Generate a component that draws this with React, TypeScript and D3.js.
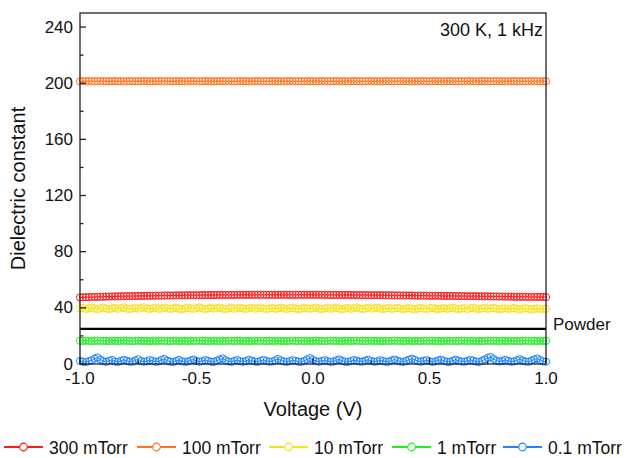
import { useMemo } from "react";
import * as d3 from "d3";

// voltage sweep (V), step 0.0125
const voltages: number[] = d3.range(0, 161).map((i) => -1 + i * 0.0125);

const p300: number[] = [
  47.4, 47.5, 47.6, 47.6, 47.7, 47.8, 47.8, 47.9, 47.9, 48.0, 48.0, 48.1, 48.1, 48.2, 48.2, 48.3, 48.3, 48.3, 48.4, 48.4,
  48.5, 48.5, 48.5, 48.6, 48.6, 48.6, 48.7, 48.7, 48.7, 48.8, 48.8, 48.8, 48.8, 48.9, 48.9, 48.9, 48.9, 49.0, 49.0, 49.0,
  49.0, 49.0, 49.1, 49.1, 49.1, 49.1, 49.1, 49.2, 49.2, 49.2, 49.2, 49.2, 49.2, 49.2, 49.3, 49.3, 49.3, 49.3, 49.3, 49.3,
  49.3, 49.3, 49.3, 49.3, 49.3, 49.3, 49.3, 49.3, 49.3, 49.3, 49.3, 49.3, 49.3, 49.3, 49.3, 49.3, 49.3, 49.3, 49.3, 49.3,
  49.3, 49.3, 49.3, 49.3, 49.3, 49.2, 49.2, 49.2, 49.2, 49.2, 49.2, 49.2, 49.2, 49.1, 49.1, 49.1, 49.1, 49.1, 49.1, 49.0,
  49.0, 49.0, 49.0, 49.0, 49.0, 48.9, 48.9, 48.9, 48.9, 48.9, 48.8, 48.8, 48.8, 48.8, 48.8, 48.7, 48.7, 48.7, 48.7, 48.7,
  48.6, 48.6, 48.6, 48.6, 48.6, 48.5, 48.5, 48.5, 48.5, 48.4, 48.4, 48.4, 48.4, 48.3, 48.3, 48.3, 48.3, 48.2, 48.2, 48.2,
  48.2, 48.1, 48.1, 48.1, 48.1, 48.0, 48.0, 48.0, 48.0, 47.9, 47.9, 47.9, 47.9, 47.9, 47.8, 47.8, 47.8, 47.8, 47.8, 47.8,
  47.7,
];

const p100: number[] = [
  201.3, 201.4, 201.3, 201.5, 201.4, 201.3, 201.4, 201.5, 201.4, 201.3, 201.4, 201.4, 201.5, 201.3, 201.4, 201.4, 201.3, 201.5, 201.4, 201.4,
  201.3, 201.4, 201.5, 201.4, 201.3, 201.4, 201.4, 201.5, 201.4, 201.3, 201.4, 201.4, 201.3, 201.5, 201.4, 201.4, 201.3, 201.4, 201.5, 201.4,
  201.4, 201.3, 201.4, 201.5, 201.4, 201.4, 201.3, 201.4, 201.4, 201.5, 201.3, 201.4, 201.4, 201.3, 201.4, 201.5, 201.4, 201.4, 201.3, 201.4,
  201.4, 201.5, 201.3, 201.4, 201.4, 201.3, 201.5, 201.4, 201.4, 201.3, 201.4, 201.4, 201.5, 201.4, 201.3, 201.4, 201.4, 201.3, 201.5, 201.4,
  201.4, 201.3, 201.4, 201.5, 201.4, 201.3, 201.4, 201.4, 201.5, 201.3, 201.4, 201.4, 201.3, 201.4, 201.5, 201.4, 201.4, 201.3, 201.4, 201.4,
  201.5, 201.3, 201.4, 201.4, 201.3, 201.5, 201.4, 201.4, 201.3, 201.4, 201.4, 201.5, 201.4, 201.3, 201.4, 201.4, 201.3, 201.5, 201.4, 201.4,
  201.3, 201.4, 201.5, 201.4, 201.3, 201.4, 201.4, 201.5, 201.4, 201.3, 201.4, 201.4, 201.3, 201.5, 201.4, 201.4, 201.3, 201.4, 201.5, 201.4,
  201.4, 201.3, 201.4, 201.5, 201.4, 201.4, 201.3, 201.4, 201.4, 201.5, 201.3, 201.4, 201.4, 201.3, 201.4, 201.5, 201.4, 201.4, 201.3, 201.4,
  201.4,
];

const p10: number[] = [
  39.6, 39.9, 39.2, 39.5, 40.1, 39.4, 39.0, 39.7, 40.2, 39.5, 39.1, 39.6, 40.0, 39.3, 39.8, 40.3, 39.5, 39.0, 39.6, 39.9,
  39.4, 39.8, 40.4, 39.6, 39.1, 39.7, 40.0, 39.3, 39.5, 40.2, 39.7, 39.2, 39.6, 40.1, 39.4, 38.9, 39.6, 40.0, 39.5, 39.3,
  39.8, 40.3, 39.6, 39.0, 39.5, 39.9, 39.4, 39.7, 40.2, 39.5, 39.1, 39.6, 40.0, 39.3, 39.8, 40.1, 39.5, 39.2, 39.7, 40.0,
  39.4, 39.7, 40.2, 39.6, 39.1, 39.5, 39.9, 39.3, 39.6, 40.1, 39.6, 39.2, 39.7, 40.0, 39.4, 39.0, 39.5, 40.0, 39.6, 39.3,
  39.7, 40.2, 39.5, 39.0, 39.6, 39.9, 39.3, 39.7, 40.1, 39.5, 39.1, 39.6, 39.9, 39.3, 39.8, 40.2, 39.5, 39.1, 39.6, 40.0,
  39.4, 39.7, 40.1, 39.5, 39.0, 39.5, 39.9, 39.3, 39.6, 40.0, 39.5, 39.1, 39.6, 39.9, 39.3, 38.9, 39.5, 39.9, 39.4, 39.2,
  39.6, 40.1, 39.4, 38.9, 39.5, 39.8, 39.2, 39.6, 40.0, 39.4, 39.0, 39.5, 39.8, 39.2, 39.7, 40.1, 39.4, 39.0, 39.5, 39.9,
  39.3, 39.6, 40.0, 39.4, 38.9, 39.4, 39.8, 39.2, 39.5, 39.9, 39.3, 38.9, 39.4, 39.8, 39.2, 38.8, 39.3, 39.7, 39.2, 38.9,
  39.3,
];

const p1: number[] = [
  16.5, 16.4, 16.6, 16.5, 16.3, 16.5, 16.6, 16.4, 16.5, 16.5, 16.3, 16.6, 16.5, 16.4, 16.5, 16.6, 16.4, 16.5, 16.3, 16.5,
  16.6, 16.4, 16.5, 16.5, 16.3, 16.6, 16.4, 16.5, 16.6, 16.4, 16.5, 16.3, 16.5, 16.6, 16.4, 16.5, 16.5, 16.3, 16.6, 16.4,
  16.5, 16.6, 16.4, 16.5, 16.3, 16.5, 16.6, 16.4, 16.5, 16.5, 16.3, 16.6, 16.5, 16.4, 16.5, 16.6, 16.4, 16.5, 16.3, 16.5,
  16.6, 16.4, 16.5, 16.5, 16.3, 16.6, 16.4, 16.5, 16.6, 16.4, 16.5, 16.3, 16.5, 16.6, 16.4, 16.5, 16.5, 16.3, 16.6, 16.4,
  16.5, 16.6, 16.4, 16.5, 16.3, 16.5, 16.6, 16.4, 16.5, 16.5, 16.3, 16.6, 16.5, 16.4, 16.5, 16.6, 16.4, 16.5, 16.3, 16.5,
  16.6, 16.4, 16.5, 16.5, 16.3, 16.6, 16.4, 16.5, 16.6, 16.4, 16.5, 16.3, 16.5, 16.6, 16.4, 16.5, 16.5, 16.3, 16.6, 16.4,
  16.5, 16.6, 16.4, 16.5, 16.3, 16.5, 16.6, 16.4, 16.5, 16.5, 16.3, 16.6, 16.5, 16.4, 16.5, 16.6, 16.4, 16.5, 16.3, 16.5,
  16.6, 16.4, 16.5, 16.5, 16.3, 16.6, 16.4, 16.5, 16.6, 16.4, 16.5, 16.3, 16.5, 16.6, 16.4, 16.5, 16.5, 16.3, 16.6, 16.4,
  16.5,
];

const p01: number[] = [
  2.2, 1.6, 1.4, 2.0, 2.6, 3.8, 4.6, 3.2, 2.0, 1.5, 2.3, 2.9, 1.8, 1.4, 2.2, 3.0, 2.4, 1.7, 1.5, 2.6,
  3.4, 2.1, 1.6, 2.0, 2.8, 2.2, 1.5, 1.8, 3.0, 3.6, 2.4, 1.6, 1.4, 2.2, 2.9, 2.0, 1.5, 1.8, 2.6, 3.2,
  2.2, 1.6, 2.0, 2.8, 2.3, 1.6, 1.5, 2.4, 3.3, 3.9, 2.7, 1.8, 1.5, 2.2, 2.8, 2.0, 1.6, 2.1, 3.0, 2.4,
  1.7, 1.5, 2.3, 2.9, 2.2, 1.6, 1.8, 2.7, 3.6, 2.6, 1.8, 1.5, 2.0, 2.7, 2.3, 1.6, 1.5, 2.2, 3.4, 4.2,
  3.0, 2.0, 1.6, 2.2, 2.7, 2.0, 1.5, 1.8, 2.6, 3.3, 2.3, 1.6, 1.5, 2.1, 2.8, 2.4, 1.7, 1.6, 2.5, 3.0,
  2.1, 1.6, 1.9, 2.6, 2.2, 1.5, 1.7, 2.5, 3.2, 2.4, 1.7, 1.5, 2.2, 3.1, 3.8, 2.9, 2.0, 1.6, 2.3, 2.8,
  2.0, 1.5, 1.8, 2.6, 3.0, 2.2, 1.6, 1.5, 2.4, 3.1, 2.3, 1.7, 1.6, 2.2, 2.9, 2.4, 1.7, 1.5, 2.3, 3.2,
  4.4, 5.0, 3.6, 2.4, 1.8, 2.2, 2.9, 2.3, 1.6, 1.8, 2.7, 3.4, 2.5, 1.7, 1.6, 2.3, 3.3, 3.9, 2.8, 1.9,
  1.6,
];

const powderLevel = 25;

const seriesNames = ["300 mTorr", "100 mTorr", "10 mTorr", "1 mTorr", "0.1 mTorr"];
const seriesValues = [p300, p100, p10, p1, p01];
const seriesColors = ["#ff1a1a", "#ff7420", "#f7e21a", "#22ee22", "#1f86ff"];

const yMajorTicks = [0, 40, 80, 120, 160, 200, 240];
const yMinorTicks = [20, 60, 100, 140, 180, 220];
const xMajorTicks = [-1, -0.5, 0, 0.5, 1];
const xMinorTicks = [-0.75, -0.25, 0.25, 0.75];

const font = "'Liberation Sans', Arial, sans-serif";

export default function App() {
  const width = 627;
  const height = 458;
  const margin = { top: 13, right: 81, bottom: 94, left: 80 };
  const x0 = margin.left;
  const x1 = width - margin.right;
  const y0 = height - margin.bottom;
  const y1 = margin.top;

  const xScale = useMemo(() => d3.scaleLinear().domain([-1, 1]).range([x0, x1]), []);
  const yScale = useMemo(() => d3.scaleLinear().domain([0, 250]).range([y0, y1]), []);

  const lineGen = d3
    .line<number>()
    .x((_, i) => xScale(voltages[i]))
    .y((d) => yScale(d));

  // legend item x positions
  const legendX = [4, 137, 269, 392, 503];

  return (
    <div style={{ position: "absolute", left: 0, top: 0 }}>
      <svg width={width} height={height} style={{ display: "block", background: "#fff" }} fontFamily={font}>
        {/* series */}
        {seriesValues.map((vals, si) => (
          <g key={seriesNames[si]}>
            <path d={lineGen(vals) ?? undefined} fill="none" stroke={seriesColors[si]} strokeWidth={1} />
            {vals.map((v, i) => (
              <circle
                key={i}
                cx={xScale(voltages[i])}
                cy={yScale(v)}
                r={3.6}
                fill="none"
                stroke={seriesColors[si]}
                strokeWidth={1}
              />
            ))}
          </g>
        ))}

        {/* powder reference */}
        <line
          x1={x0}
          x2={x1}
          y1={yScale(powderLevel)}
          y2={yScale(powderLevel)}
          stroke="#000"
          strokeWidth={2.2}
        />
        <text x={553} y={330} fontSize={17} fill="#111">
          Powder
        </text>

        {/* frame */}
        <rect x={x0} y={y1} width={x1 - x0} height={y0 - y1} fill="none" stroke="#222" strokeWidth={1.3} />

        {/* y ticks */}
        {yMajorTicks.map((t) => (
          <g key={"y" + t}>
            <line x1={x0} x2={x0 + 6} y1={yScale(t)} y2={yScale(t)} stroke="#222" strokeWidth={1.3} />
            <text x={x0 - 7} y={yScale(t) + 5.5} textAnchor="end" fontSize={17} fill="#111">
              {t}
            </text>
          </g>
        ))}
        {yMinorTicks.map((t) => (
          <line key={"ym" + t} x1={x0} x2={x0 + 3.5} y1={yScale(t)} y2={yScale(t)} stroke="#222" strokeWidth={1.3} />
        ))}

        {/* x ticks */}
        {xMajorTicks.map((t) => (
          <g key={"x" + t}>
            <line x1={xScale(t)} x2={xScale(t)} y1={y0} y2={y0 - 6} stroke="#222" strokeWidth={1.3} />
            <text x={xScale(t)} y={y0 + 20} textAnchor="middle" fontSize={17} fill="#111">
              {t.toFixed(1)}
            </text>
          </g>
        ))}
        {xMinorTicks.map((t) => (
          <line key={"xm" + t} x1={xScale(t)} x2={xScale(t)} y1={y0} y2={y0 - 3.5} stroke="#222" strokeWidth={1.3} />
        ))}

        {/* titles */}
        <text x={(x0 + x1) / 2} y={416} textAnchor="middle" fontSize={20} fill="#111">
          Voltage (V)
        </text>
        <text transform={`translate(25,${(y0 + y1) / 2}) rotate(-90)`} textAnchor="middle" fontSize={20} fill="#111">
          Dielectric constant
        </text>
        <text x={x1 - 3} y={36} textAnchor="end" fontSize={18} fill="#111">
          300 K, 1 kHz
        </text>

        {/* legend */}
        {seriesNames.map((name, i) => (
          <g key={"leg" + name} transform={`translate(${legendX[i]},447)`}>
            <line x1={0} x2={39} y1={0} y2={0} stroke={seriesColors[i]} strokeWidth={2} />
            <circle cx={19.5} cy={0} r={3.8} fill="#fff" stroke={seriesColors[i]} strokeWidth={1.2} />
            <text x={45} y={7} fontSize={17.5} fill="#111">
              {name}
            </text>
          </g>
        ))}
      </svg>
    </div>
  );
}
